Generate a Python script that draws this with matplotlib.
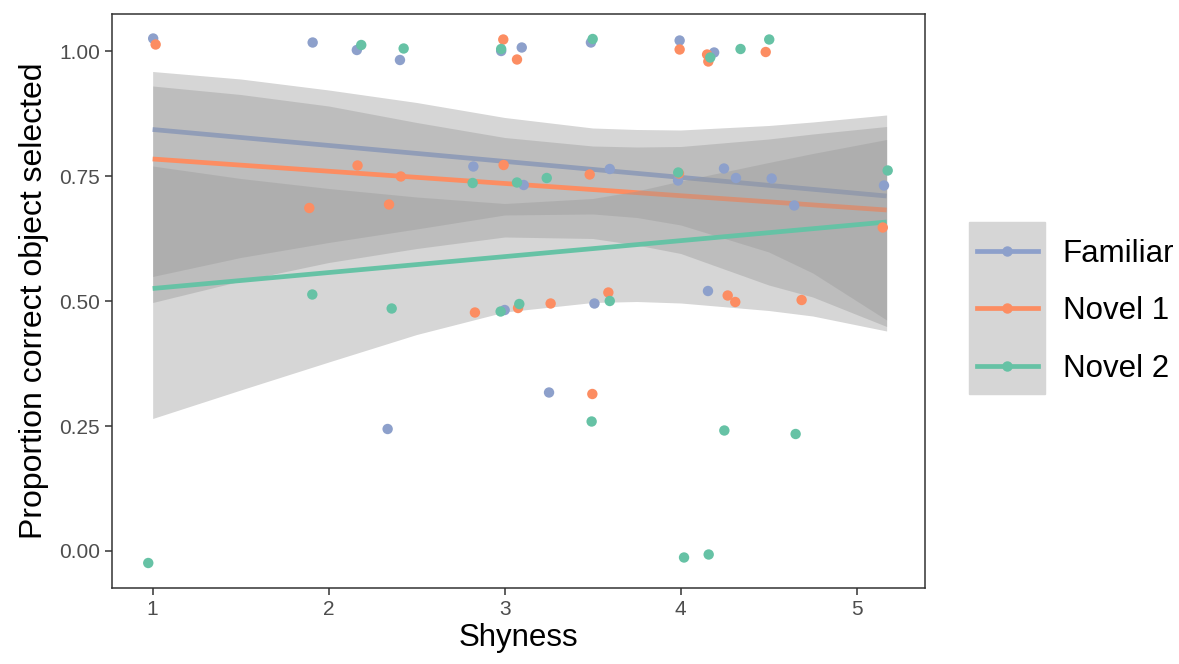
import numpy as np
import matplotlib
matplotlib.use("Agg")
import matplotlib.pyplot as plt
from matplotlib.lines import Line2D
from matplotlib.patches import Rectangle

plt.rcParams['font.family'] = ['Liberation Sans', 'DejaVu Sans']

groups = ["Familiar", "Novel 1", "Novel 2"]
colors = ["#8DA0CB", "#FC8D62", "#66C2A5"]

# jittered points as they appear in the chart
familiar_x = [1.003, 1.909, 2.160, 2.405, 2.980, 3.097, 3.490, 3.994, 4.190, 2.822, 3.108, 3.597,
              3.985, 4.246, 4.314, 4.517, 4.645, 5.155, 4.155, 3.510, 3.000, 3.252, 2.335]
familiar_y = [1.025, 1.017, 1.002, 0.982, 1.000, 1.007, 1.017, 1.021, 0.997, 0.769, 0.732, 0.764,
              0.741, 0.765, 0.746, 0.745, 0.691, 0.731, 0.520, 0.495, 0.482, 0.317, 0.244]

novel1_x = [1.017, 2.992, 3.070, 3.994, 4.150, 4.157, 4.483, 2.164, 2.410, 1.890, 2.343, 2.994,
            3.483, 3.990, 5.148, 4.267, 4.310, 4.687, 3.589, 3.261, 3.076, 2.831, 3.498]
novel1_y = [1.013, 1.023, 0.983, 1.003, 0.993, 0.979, 0.998, 0.771, 0.749, 0.686, 0.693, 0.772,
            0.753, 0.755, 0.647, 0.511, 0.498, 0.502, 0.517, 0.495, 0.486, 0.477, 0.314]

novel2_x = [2.185, 2.426, 2.980, 3.500, 4.168, 4.340, 4.503, 2.818, 3.070, 3.239, 3.986, 5.176,
            1.907, 2.358, 2.977, 3.083, 3.597, 3.494, 4.248, 4.653, 4.019, 4.159, 0.975]
novel2_y = [1.012, 1.005, 1.004, 1.024, 0.987, 1.004, 1.023, 0.736, 0.737, 0.746, 0.757, 0.761,
            0.513, 0.485, 0.479, 0.494, 0.500, 0.259, 0.241, 0.234, -0.013, -0.007, -0.024]

# fitted lines
fit_x = [1.0, 5.17]
familiar_fit = [0.843, 0.710]
novel1_fit = [0.784, 0.682]
novel2_fit = [0.525, 0.658]

# confidence ribbons
band_x = [1.0, 1.5, 2.0, 2.5, 3.0, 3.5, 3.75, 4.0, 4.5, 4.75, 5.17]
familiar_lo = [0.497, 0.540, 0.577, 0.605, 0.628, 0.625, 0.612, 0.595, 0.532, 0.508, 0.449]
familiar_hi = [0.959, 0.944, 0.922, 0.897, 0.867, 0.846, 0.843, 0.842, 0.851, 0.858, 0.872]
novel1_lo = [0.549, 0.587, 0.617, 0.644, 0.672, 0.674, 0.667, 0.652, 0.598, 0.556, 0.462]
novel1_hi = [0.930, 0.913, 0.890, 0.857, 0.827, 0.810, 0.808, 0.809, 0.824, 0.834, 0.849]
novel2_lo = [0.265, 0.322, 0.378, 0.433, 0.478, 0.497, 0.499, 0.496, 0.481, 0.470, 0.440]
novel2_hi = [0.770, 0.745, 0.725, 0.708, 0.695, 0.705, 0.720, 0.740, 0.777, 0.795, 0.823]

xs = [familiar_x, novel1_x, novel2_x]
ys = [familiar_y, novel1_y, novel2_y]
fits = [familiar_fit, novel1_fit, novel2_fit]
los = [familiar_lo, novel1_lo, novel2_lo]
his = [familiar_hi, novel1_hi, novel2_hi]

fig = plt.figure(figsize=(11.79, 6.64), dpi=100)
ax = fig.add_axes([112 / 1179, 1 - 588 / 664, 813 / 1179, 574 / 664])

# ribbon then line for each group, like geom_smooth
for fit, lo, hi, c in zip(fits, los, his, colors):
    ax.fill_between(band_x, lo, hi, color="#999999", alpha=0.4, linewidth=0, zorder=1)
    ax.plot(fit_x, fit, color=c, lw=3.4, zorder=1, solid_capstyle="butt")

for x, y, c in zip(xs, ys, colors):
    ax.scatter(x, y, s=56, color=c, edgecolors="none", zorder=3)

ax.set_xlim(0.769, 5.388)
ax.set_ylim(-0.074, 1.074)
ax.set_xticks([1, 2, 3, 4, 5])
ax.set_yticks([0, 0.25, 0.5, 0.75, 1.0])
ax.set_yticklabels(["0.00", "0.25", "0.50", "0.75", "1.00"])
ax.tick_params(labelsize=15, labelcolor="#4D4D4D", color="#333333", length=5, width=1.1)
for sp in ax.spines.values():
    sp.set_color("#333333")
    sp.set_linewidth(1.1)
ax.set_xlabel("Shyness", fontsize=22.5, labelpad=3)
ax.set_ylabel("Proportion correct object selected", fontsize=23, labelpad=7)

# legend with grey key background
fig.patches.append(Rectangle((969 / 1179, 1 - 394 / 664), 76 / 1179, 172 / 664,
                             transform=fig.transFigure, color="#D6D6D6", zorder=0))
handles = [Line2D([], [], color=c, lw=3.4, marker="o", markersize=6.5) for c in colors]
fig.legend(handles, groups, loc="center left", bbox_to_anchor=(977 / 1179, 1 - 311 / 664),
           frameon=False, fontsize=22.5, handlelength=1.94, handletextpad=0.8,
           labelspacing=0.88, borderpad=0, borderaxespad=0)

fig.savefig("out.png", dpi=100)
